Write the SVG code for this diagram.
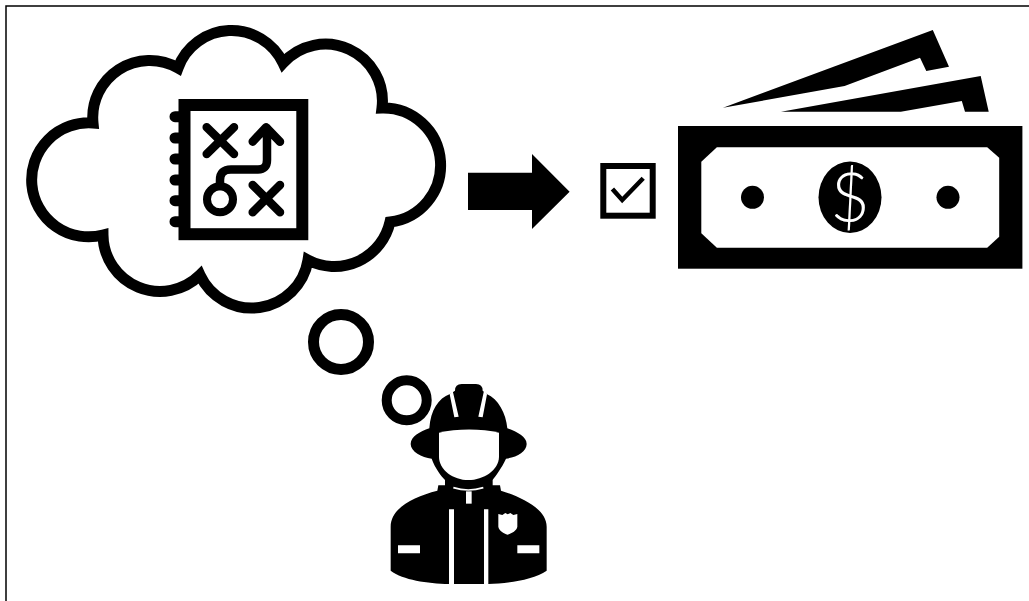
<svg xmlns="http://www.w3.org/2000/svg" width="1029" height="601" viewBox="0 0 1029 601">
<style>
.k{fill:#000}.w{fill:#fff}
.o{fill:none;stroke:#000;stroke-linecap:round;stroke-linejoin:round}
</style>
<rect width="1029" height="601" fill="#fff"/>
<path id="frame" d="M6,601V6H1029" fill="none" stroke="#000" stroke-width="1.5"/>
<g id="cloud">
<path d="M178,68A57,57 0 0 1 283,63A57,57 0 0 1 382,108A57.2,57.2 0 0 1 390,222A57,57 0 0 1 308,260A57,57 0 0 1 200,275A57,57 0 0 1 103,235A57,57 0 1 1 93,123A57,57 0 0 1 178,68Z" fill="#fff" stroke="#000" stroke-width="11" stroke-linejoin="miter" stroke-miterlimit="10"/>
</g>
<g id="notebook">
<rect x="184.5" y="105" width="117.8" height="129.2" fill="#fff" stroke="#000" stroke-width="12"/>
<path class="o" stroke-width="11" d="M175,116.7H180M175,138H180M175,159H180M175,180H180M175,200.7H180M175,221.7H180"/>
<path class="o" stroke-width="8.5" d="M206.7,127.3L234,154M234,127.3L206.7,154M252.7,185L280,212.3M280,185L252.7,212.3M220,186V180Q220,169.5 231,169.5H258Q267,169.5 267,160V128M252.7,141.7L266,127.3L280,141.7"/>
<circle cx="220" cy="199.3" r="13" fill="none" stroke="#000" stroke-width="8"/>
</g>
<g id="thought-bubbles">
<circle cx="341" cy="342" r="27.5" fill="none" stroke="#000" stroke-width="11"/>
<circle cx="406.7" cy="400.3" r="20" fill="none" stroke="#000" stroke-width="10"/>
</g>
<g id="firefighter" transform="translate(300,300) scale(.33333)">
<path class="k" d="M465,272Q465,252 485,252H528Q548,252 548,272L560,282C595,297 618,340 622,385C650,395 680,410 680,432C680,455 650,472 618,476C605,505 585,530 578,540L578,556H600L603,572C660,590 740,625 740,680V812C700,840 620,850 565,852H448C380,850 310,840 272,812V680C272,625 340,590 412,572L415,556H435L435,540C425,530 405,505 395,476C365,472 332,455 332,432C332,410 360,395 388,385C392,330 415,295 450,282Z"/>
<path class="w" d="M417,398C470,385 545,385 597,398V470C597,510 550,540 505,540C460,540 417,510 417,470Z"/>
<path class="w" d="M449,283L458,272L476,350L463,352ZM561,283L552,272L535,350L548,352Z"/>
<path class="w" d="M447,628H462V856H447ZM552,628H565V856H552ZM294,736H360V760H294ZM652,736H718V760H652Z"/>
<path d="M460,563Q505,577 550,563" fill="none" stroke="#fff" stroke-width="5"/>
<path class="w" d="M498,574H515V611H498Z"/>
<path class="w" d="M595,642L607,645L616,639L623,643L631,639L640,645L652,642V680C650,692 635,700 623,704C611,700 597,692 595,680Z"/>
</g>
<g id="arrow">
<polygon class="k" points="468,172.7 532,172.7 532,154 569.6,191.7 532,229 532,210 468,210"/>
</g>
<g id="checkbox">
<rect x="603.3" y="166" width="49.4" height="49.7" fill="#fff" stroke="#000" stroke-width="6"/>
<path d="M612.4,189L622.2,200L643.2,178.3" fill="none" stroke="#000" stroke-width="4.5"/>
</g>
<g id="money">
<polygon class="k" points="723,107.7 932.8,30 949,66.7 926.3,71 920,57.7 844.6,86"/>
<polygon class="k" points="781,111.7 980.7,76 988.7,111.7 965,111.7 961.8,101 900.8,111.7"/>
<rect class="k" x="678" y="126" width="344.4" height="142.7"/>
<polygon class="w" points="716.9,147.3 987.2,147.3 999.2,157.7 999.2,236.7 987.2,247.7 716.9,247.7 701.3,233.3 701.3,161.7"/>
<circle class="k" cx="752.5" cy="197.3" r="11.5"/>
<circle class="k" cx="948" cy="197.3" r="11.5"/>
<ellipse class="k" cx="850" cy="197.3" rx="31.5" ry="35.7"/>
<text x="850" y="222" text-anchor="middle" font-family="Lato, 'Liberation Sans', sans-serif" font-weight="300" font-size="68" fill="#fff">$</text>
</g>
</svg>
